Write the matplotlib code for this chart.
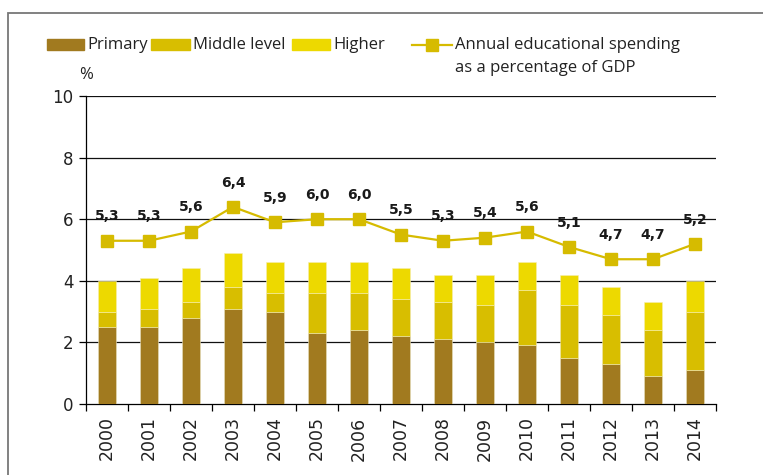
import matplotlib
matplotlib.use("Agg")
import matplotlib.pyplot as plt
from matplotlib.patches import Rectangle
from matplotlib.lines import Line2D
import numpy as np

years = ["2000", "2001", "2002", "2003", "2004", "2005", "2006", "2007",
         "2008", "2009", "2010", "2011", "2012", "2013", "2014"]
primary = [2.5, 2.5, 2.8, 3.1, 3.0, 2.3, 2.4, 2.2, 2.1, 2.0, 1.9, 1.5, 1.3, 0.9, 1.1]
middle_top = [3.0, 3.1, 3.3, 3.8, 3.6, 3.6, 3.6, 3.4, 3.3, 3.2, 3.7, 3.2, 2.9, 2.4, 3.0]
total = [4.0, 4.1, 4.4, 4.9, 4.6, 4.6, 4.6, 4.4, 4.2, 4.2, 4.6, 4.2, 3.8, 3.3, 4.0]
spending = [5.3, 5.3, 5.6, 6.4, 5.9, 6.0, 6.0, 5.5, 5.3, 5.4, 5.6, 5.1, 4.7, 4.7, 5.2]

middle = [round(m - p, 2) for m, p in zip(middle_top, primary)]
higher = [round(t - m, 2) for t, m in zip(total, middle_top)]

c_primary = "#A17A1F"
c_middle = "#D8BE00"
c_higher = "#EDD900"
c_line = "#D6BB00"

narrow = ["Open Sans", "DejaVu Sans"]
boldfam = ["DejaVu Sans"]

fig = plt.figure(figsize=(7.63, 4.75), dpi=100)
W, H = 763, 475

# outer frame
fig.patches.append(Rectangle((8 / W, -0.1), 1.2, 1.1 - 13 / H, transform=fig.transFigure,
                             fill=False, edgecolor="#777777", linewidth=1.3))

ax = fig.add_axes([86 / W, 1 - 404 / H, (716 - 86) / W, (404 - 96) / H])
x = np.arange(len(years))
bw = 0.41
ax.bar(x, primary, bw, color=c_primary, edgecolor="#E8E0C0", linewidth=0.4, zorder=3)
ax.bar(x, middle, bw, bottom=primary, color=c_middle, edgecolor="#F0E8B0", linewidth=0.4, zorder=3)
ax.bar(x, higher, bw, bottom=middle_top, color=c_higher, edgecolor="#F5EEB0", linewidth=0.4, zorder=3)
ax.plot(x, spending, color=c_line, lw=1.6, marker="s", markersize=9,
        markerfacecolor=c_line, markeredgecolor=c_line, zorder=4)

for xi, v in zip(x, spending):
    ax.annotate(f"{v:.1f}".replace(".", ","), (xi, v), xytext=(0, 17.5),
                textcoords="offset points", ha="center", va="center",
                fontsize=10, fontweight="bold", color="#1a1a1a", family=boldfam)

ax.set_xlim(-0.5, len(years) - 0.5)
ax.set_ylim(0, 10)
ax.set_yticks([0, 2, 4, 6, 8, 10])
ax.set_yticklabels(["0", "2", "4", "6", "8", "10"], fontsize=12, color="#222222")
for yv in [2, 4, 6, 8, 10]:
    ax.axhline(yv, color="#111111", lw=0.9, zorder=2)

ax.set_xticks(x)
ax.set_xticklabels(years, rotation=90, fontsize=12.5, color="#222222")
ax.set_xticks(np.arange(-0.5, len(years), 1.0), minor=True)
ax.tick_params(axis="x", which="major", length=0, pad=9)
ax.tick_params(axis="x", which="minor", length=5, width=0.9, direction="out")
ax.tick_params(axis="y", length=5, width=0.9, direction="out", pad=4)

for s in ["top", "right"]:
    ax.spines[s].set_visible(False)
ax.spines["left"].set_linewidth(0.9)
ax.spines["bottom"].set_linewidth(0.9)

fig.text(86 / W, 1 - 75 / H, "%", ha="center", va="center",
         fontsize=12, color="#222222", family=narrow)

# legend
def patch(x0, x1, color):
    fig.patches.append(Rectangle((x0 / W, 1 - 50 / H), (x1 - x0) / W, 11 / H,
                                 transform=fig.transFigure, color=color))

def label(x0, y0, s):
    fig.text(x0 / W, 1 - y0 / H, s, ha="left", va="center", fontsize=12,
             color="#222222", family=narrow)

patch(47, 84, c_primary)
label(87, 45, "Primary")
patch(151, 190, c_middle)
label(193, 45, "Middle level")
patch(292, 330, c_higher)
label(333, 45, "Higher")
fig.lines.append(Line2D([412 / W, 452 / W], [1 - 45 / H, 1 - 45 / H], transform=fig.transFigure,
                        color=c_line, lw=1.6, marker=None))
fig.lines.append(Line2D([432 / W], [1 - 45 / H], transform=fig.transFigure,
                        color=c_line, marker="s", markersize=8, lw=0))
label(455, 45, "Annual educational spending")
label(455, 68, "as a percentage of GDP")

fig.savefig("out.png", dpi=100)
